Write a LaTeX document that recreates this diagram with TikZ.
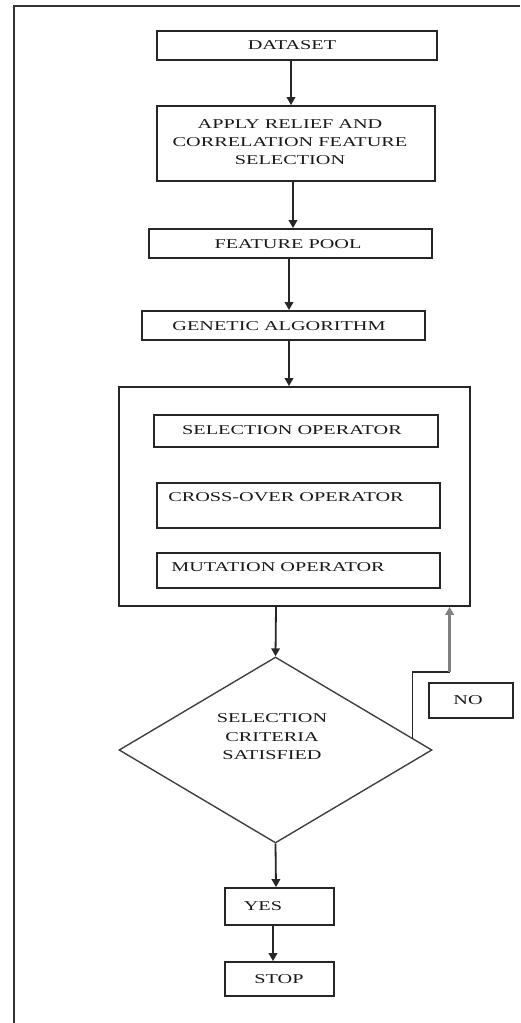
\documentclass[tikz,border=0pt]{standalone}
\usepackage{fontspec}
\usetikzlibrary{shapes.geometric,arrows.meta,calc}
\newfontfamily\flowfont[FakeStretch=1.5]{Liberation Serif}
\begin{document}
\begin{tikzpicture}[x=1pt,y=1pt,
  box/.style={draw=black!85, line width=1.8pt, rectangle, inner sep=0pt},
  txt/.style={font=\flowfont\fontsize{13.5}{18}\selectfont, inner sep=0pt, align=center, text=black!90},
  arr/.style={draw=black!85, line width=1.8pt, -{Triangle[length=8pt,width=8.5pt]}},
  frameline/.style={draw=black!80, line width=2pt}]
\useasboundingbox (0,0) rectangle (520,-1023);
% outer frame (only top and left edges visible)
\coordinate (fr1) at (520,-6);
\coordinate (fr2) at (14,-6);
\coordinate (fr3) at (14,-1023);
\draw[frameline] (fr1) -- (fr2) -- (fr3);

% boxes
\node[box, minimum width=280, minimum height=29] (dataset) at (297,-45.5) {};
\node[box, minimum width=278, minimum height=75] (apply) at (296,-143.5) {};
\node[box, minimum width=283, minimum height=29] (pool) at (290.5,-243.5) {};
\node[box, minimum width=283, minimum height=29] (ga) at (283.5,-325.5) {};
\node[box, minimum width=351, minimum height=219] (big) at (294.5,-496.5) {};
\node[box, minimum width=284, minimum height=32] (selop) at (296,-431) {};
\node[box, minimum width=283, minimum height=45] (cross) at (298.5,-505.5) {};
\node[box, minimum width=283, minimum height=35] (mut) at (298.5,-570.5) {};
\node[draw=black!75, line width=1.4pt, diamond, inner sep=0pt, minimum width=313, minimum height=186] (crit) at (275.5,-750) {};
\node[box, minimum width=84, minimum height=35] (no) at (471,-700.5) {};
\node[box, minimum width=109, minimum height=37] (yes) at (279.5,-906.5) {};
\node[box, minimum width=109, minimum height=34] (stop) at (279.5,-979) {};

% texts
\node[txt] (datasetT) at (292,-45.5) {DATASET};
\node[txt] (applyT) at (290,-142) {APPLY RELIEF AND\\CORRELATION FEATURE\\SELECTION};
\node[txt] (poolT) at (288,-244) {FEATURE POOL};
\node[txt] (gaT) at (279,-326) {GENETIC ALGORITHM};
\node[txt] (selopT) at (292,-430) {SELECTION OPERATOR};
\node[txt] (crossT) at (286,-497) {CROSS-OVER OPERATOR};
\node[txt] (mutT) at (278,-567) {MUTATION OPERATOR};
\node[txt, font=\flowfont\fontsize{13.5}{18.5}\selectfont] (critT) at (272,-737) {SELECTION\\CRITERIA\\SATISFIED};
\node[txt] (noT) at (468,-700) {NO};
\node[txt] (yesT) at (263,-906) {YES};
\node[txt] (stopT) at (279,-979) {STOP};

% connectors
\draw[arr] ([xshift=-6]dataset.south) -- ([xshift=-5]apply.north);
\draw[arr] ([xshift=-3]apply.south) -- ([xshift=2.5]pool.north);
\draw[arr] ([xshift=-1.5]pool.south) -- ([xshift=5.5]ga.north);
\draw[arr] ([xshift=5.5]ga.south) -- ([xshift=-5.5]big.north);
\draw[arr] ([xshift=-18.5]big.south) -- (crit.north);
\draw[arr] (crit.south) -- ([xshift=-3.5]yes.north);
\draw[arr] ([xshift=-6.5]yes.south) -- ([xshift=-6.5]stop.north);
% NO loop back
\coordinate (noStart) at ($(crit.north)!0.872!(crit.east)$);
\coordinate (noBend1) at ($(noStart)+(0,66)$);
\coordinate (noBend2) at ($(noBend1)+(37,0)$);
\draw[draw=black!85, line width=1.8pt] (noStart) -- (noBend1) -- (noBend2);
\draw[arr, draw=black!50, fill=black!60, line width=2.4pt] (noBend2) -- (noBend2 |- big.south);
\end{tikzpicture}
\end{document}
